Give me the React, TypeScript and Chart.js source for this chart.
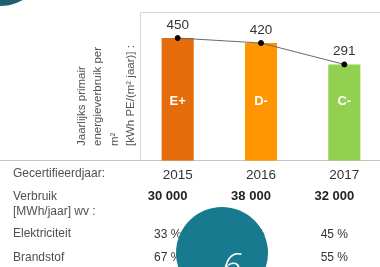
import React, { useEffect, useRef } from "react";
import { Chart, registerables } from "chart.js";

Chart.register(...registerables);

const years = ["2015", "2016", "2017"];
const energy = [450, 420, 291];
const classLabels = ["E+", "D-", "C-"];
const barColors = ["#E46C0A", "#FF9500", "#92D050"];
const consumption = ["30 000", "38 000", "32 000"];
const electricity = ["33 %", "35 %", "45 %"];
const fuel = ["67 %", "65 %", "55 %"];
const yTitleLines = ["Jaarlijks primair", "energieverbruik per", "m²", "[kWh PE/(m² jaar)] :"];
const rowYear = "Gecertifieerdjaar:";
const rowConsumption = ["Verbruik", "[MWh/jaar] wv :"];
const rowElectricity = "Elektriciteit";
const rowFuel = "Brandstof";
const slideNumber = "6";

const FONT = "'Liberation Sans', Arial, sans-serif";
const Y_MIN = -290;
const Y_MAX = 607;

const decorPlugin = {
  id: "decor",
  beforeDraw(chart: any) {
    const ctx = chart.ctx;
    ctx.save();
    ctx.fillStyle = "#ffffff";
    ctx.fillRect(0, 0, chart.width, chart.height);
    ctx.strokeStyle = "#d6d6d6";
    ctx.lineWidth = 1;
    ctx.beginPath();
    ctx.moveTo(140.5, 12.5);
    ctx.lineTo(chart.width, 12.5);
    ctx.moveTo(140.5, 12.5);
    ctx.lineTo(140.5, 160);
    ctx.stroke();
    ctx.strokeStyle = "#c4c4c4";
    ctx.beginPath();
    ctx.moveTo(0, 160.5);
    ctx.lineTo(chart.width, 160.5);
    ctx.stroke();
    ctx.restore();
  },
  afterDatasetsDraw(chart: any) {
    const ctx = chart.ctx;
    const xs = chart.scales.x;
    const ys = chart.scales.y;
    ctx.save();
    ctx.textAlign = "center";
    ctx.textBaseline = "middle";
    energy.forEach((v, i) => {
      const x = xs.getPixelForValue(i);
      const y = ys.getPixelForValue(v);
      ctx.fillStyle = "#333333";
      ctx.font = `13.5px ${FONT}`;
      ctx.fillText(String(v), x, y - 13);
      ctx.fillStyle = "#ffffff";
      ctx.font = `bold 13px ${FONT}`;
      ctx.fillText(classLabels[i], x, 101);
    });
    ctx.restore();
  },
  afterDraw(chart: any) {
    const ctx = chart.ctx;
    const xs = chart.scales.x;
    ctx.save();
    // y title (rotated)
    ctx.fillStyle = "#555555";
    ctx.font = `11.5px ${FONT}`;
    ctx.textAlign = "left";
    ctx.textBaseline = "middle";
    const lineXs = [82, 98, 115, 131];
    yTitleLines.forEach((t, i) => {
      ctx.save();
      ctx.translate(lineXs[i], 146);
      ctx.rotate(-Math.PI / 2);
      ctx.fillText(t, 0, 0);
      ctx.restore();
    });
    // row labels
    ctx.fillStyle = "#505050";
    ctx.font = `12px ${FONT}`;
    ctx.fillText(rowYear, 13, 174);
    ctx.fillText(rowConsumption[0], 13, 197);
    ctx.fillText(rowConsumption[1], 13, 212);
    ctx.fillText(rowElectricity, 13, 234);
    ctx.fillText(rowFuel, 13, 258);
    // values
    ctx.textAlign = "center";
    years.forEach((_, i) => {
      const x = xs.getPixelForValue(i) - 10;
      ctx.fillStyle = "#222222";
      ctx.font = `bold 13px ${FONT}`;
      ctx.fillText(consumption[i], x, 196);
      ctx.fillStyle = "#333333";
      ctx.font = `12px ${FONT}`;
      ctx.fillText(electricity[i], x, 235);
      ctx.fillText(fuel[i], x, 258);
    });
    // circles
    ctx.fillStyle = "#1E5E70";
    ctx.beginPath();
    ctx.arc(0, -40, 46, 0, Math.PI * 2);
    ctx.fill();
    ctx.fillStyle = "#187A8E";
    ctx.beginPath();
    ctx.arc(222, 253, 46, 0, Math.PI * 2);
    ctx.fill();
    ctx.fillStyle = "#ffffff";
    ctx.font = `italic 300 36px 'Open Sans', sans-serif`;
    ctx.textAlign = "center";
    ctx.textBaseline = "alphabetic";
    ctx.fillText(slideNumber, 232, 279);
    ctx.restore();
  },
};

export default function App() {
  const ref = useRef<HTMLCanvasElement | null>(null);
  useEffect(() => {
    if (!ref.current) return;
    const chart = new Chart(ref.current, {
      type: "bar",
      data: {
        labels: years,
        datasets: [
          {
            type: "line",
            data: energy,
            borderColor: "#6a6a6a",
            borderWidth: 1,
            pointRadius: 2.5,
            pointBackgroundColor: "#000000",
            pointBorderColor: "#000000",
            tension: 0,
            order: 0,
          } as any,
          {
            type: "bar",
            data: energy,
            base: Y_MIN,
            backgroundColor: barColors,
            barPercentage: 0.385,
            categoryPercentage: 1,
            order: 1,
          } as any,
        ],
      },
      options: {
        responsive: false,
        animation: false,
        layout: { padding: { left: 136, top: 12, right: 14, bottom: 78 } },
        plugins: { legend: { display: false }, tooltip: { enabled: false } },
        scales: {
          x: {
            grid: { display: false, drawTicks: false },
            border: { display: false },
            ticks: { padding: 6, color: "#333333", font: { family: FONT, size: 13.5 } },
          },
          y: { display: false, min: Y_MIN, max: Y_MAX },
        },
      },
      plugins: [decorPlugin],
    });
    return () => chart.destroy();
  }, []);
  return (
    <div style={{ position: "fixed", left: 0, top: 0, width: 380, height: 267, overflow: "hidden", background: "#fff" }}>
      <canvas ref={ref} width={400} height={267} style={{ width: 400, height: 267, display: "block" }} />
    </div>
  );
}
